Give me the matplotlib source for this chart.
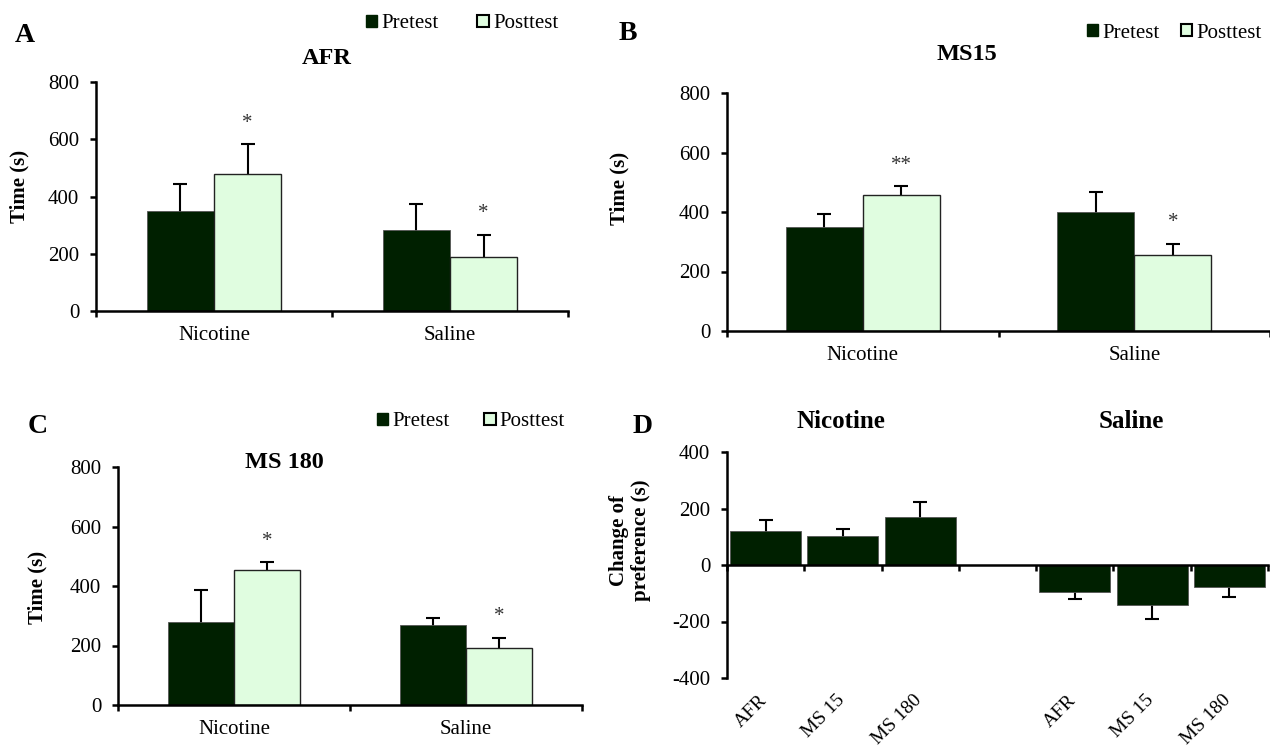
import numpy as np
import matplotlib
matplotlib.use("Agg")
import matplotlib.pyplot as plt
from matplotlib.patches import Patch

plt.rcParams['font.family'] = ['Liberation Serif', 'DejaVu Serif']
plt.rcParams['axes.unicode_minus'] = False

W, H = 1270, 749

groups = ['Nicotine', 'Saline']

# panel A - AFR
afr_pre = [350, 284]
afr_pre_err = [93, 90]
afr_post = [478, 190]
afr_post_err = [104, 77]
afr_stars = ['*', '*']

# panel B - MS15
ms15_pre = [349, 400]
ms15_pre_err = [43, 68]
ms15_post = [456, 257]
ms15_post_err = [30, 36]
ms15_stars = ['**', '*']

# panel C - MS 180
ms180_pre = [279, 270]
ms180_pre_err = [107, 21]
ms180_post = [453, 192]
ms180_post_err = [27, 34]
ms180_stars = ['*', '*']

# panel D - change of preference
cond_labels = ['AFR', 'MS 15', 'MS 180']
nic_change = [122, 104, 171]
nic_change_err = [38, 24, 53]
sal_change = [-96, -143, -79]
sal_change_err = [26, 49, 35]

DARK = '#002000'
LIGHT = '#e0fde0'


def px(x, y):
    return x / W, 1 - y / H


def style_axes(ax):
    for s in ['top', 'right']:
        ax.spines[s].set_visible(False)
    for s in ['left', 'bottom']:
        ax.spines[s].set_linewidth(1.8)
    ax.tick_params(axis='both', which='major', width=1.8, length=4, labelsize=15)
    ax.tick_params(axis='y', pad=8)


def err(ax, x, v, e):
    # symmetric bars drawn behind the boxes, so only the outer half shows
    ax.errorbar(x, v, yerr=e, fmt='none', ecolor='black', elinewidth=1.5,
                capsize=5, capthick=1.5, zorder=1)


def panel(rect, xmax, pre, pre_err, post, post_err, stars):
    ax = fig.add_axes(rect)
    x = np.arange(len(groups))
    w = 0.284
    ax.bar(x - w / 2, pre, w, color=DARK, edgecolor='#555555', linewidth=0.6, zorder=2)
    ax.bar(x + w / 2, post, w, color=LIGHT, edgecolor='#222222', linewidth=1.0, zorder=2)
    err(ax, x - w / 2, pre, pre_err)
    err(ax, x + w / 2, post, post_err)
    for xi, v, e, s in zip(x + w / 2, post, post_err, stars):
        ax.annotate(s, (xi, v + e), xytext=(0, 15), textcoords='offset points',
                    ha='center', va='center', fontsize=15, color='#333333')
    ax.set_ylim(0, 800)
    ax.set_yticks(range(0, 801, 200))
    ax.set_xlim(-0.5, xmax)
    ax.set_xticks([-0.5, 0.5, 1.5])
    ax.set_xticklabels([])
    ax.set_xticks(x, minor=True)
    ax.set_xticklabels(groups, minor=True)
    style_axes(ax)
    ax.tick_params(axis='x', which='minor', length=0, pad=11, labelsize=15)
    return ax


def legend_at(x, y, colsp):
    handles = [Patch(facecolor=DARK, edgecolor=DARK, label='Pretest'),
               Patch(facecolor=LIGHT, edgecolor='black', linewidth=1.5, label='Posttest')]
    fig.legend(handles=handles, loc='center left', bbox_to_anchor=px(x, y), ncol=2,
               frameon=False, borderpad=0, borderaxespad=0, handlelength=0.55,
               handleheight=0.55, handletextpad=0.2, columnspacing=colsp, fontsize=15)


fig = plt.figure(figsize=(12.7, 7.49), dpi=100)

# A
panel([96 / W, 1 - 311 / H, 472 / W, 229 / H], 1.5, afr_pre, afr_pre_err, afr_post, afr_post_err, afr_stars)
fig.text(*px(327, 58), 'AFR', ha='center', va='center', fontsize=17.5, fontweight='bold')
fig.text(*px(25, 35), 'A', ha='center', va='center', fontsize=20, fontweight='bold')
fig.text(*px(19, 186), 'Time (s)', ha='center', va='center', rotation=90, fontsize=15, fontweight='bold')
legend_at(366, 24, 1.85)

# B
panel([727 / W, 1 - 331 / H, 543 / W, 238 / H], 1.453, ms15_pre, ms15_pre_err, ms15_post, ms15_post_err, ms15_stars)
fig.text(*px(967, 55), 'MS15', ha='center', va='center', fontsize=17.5, fontweight='bold')
fig.text(*px(628, 33), 'B', ha='center', va='center', fontsize=20, fontweight='bold')
fig.text(*px(619, 188), 'Time (s)', ha='center', va='center', rotation=90, fontsize=15, fontweight='bold')
legend_at(1087, 33, 1.0)

# C
panel([118 / W, 1 - 705 / H, 464 / W, 238 / H], 1.5, ms180_pre, ms180_pre_err, ms180_post, ms180_post_err, ms180_stars)
fig.text(*px(284, 463), 'MS 180', ha='center', va='center', fontsize=17.5, fontweight='bold')
fig.text(*px(38, 427), 'C', ha='center', va='center', fontsize=20, fontweight='bold')
fig.text(*px(37, 587), 'Time (s)', ha='center', va='center', rotation=90, fontsize=15, fontweight='bold')
legend_at(377, 422, 1.65)

# D
axd = fig.add_axes([727 / W, 1 - 678 / H, 541 / W, 226 / H])
nic_x = np.arange(len(cond_labels))
sal_x = nic_x + len(cond_labels) + 1
bw = 0.92
axd.bar(nic_x, nic_change, bw, color=DARK, edgecolor='#555555', linewidth=0.6, zorder=2)
axd.bar(sal_x, sal_change, bw, color=DARK, edgecolor='#555555', linewidth=0.6, zorder=2)
err(axd, nic_x, nic_change, nic_change_err)
err(axd, sal_x, sal_change, sal_change_err)
axd.set_ylim(-400, 400)
axd.set_yticks(range(-400, 401, 200))
axd.set_xlim(-0.5, 6.5)
axd.set_xticks(np.arange(-0.5, 7, 1.0))
axd.set_xticklabels([])
style_axes(axd)
axd.spines['bottom'].set_position(('data', 0))
for xi, lab in zip(list(nic_x) + list(sal_x), cond_labels * 2):
    axd.annotate(lab, (xi, 0), xycoords=('data', 'axes fraction'), xytext=(-5, -10),
                 textcoords='offset points', rotation=45, ha='right', va='top',
                 rotation_mode='anchor', fontsize=14)
fig.text(*px(841, 422), 'Nicotine', ha='center', va='center', fontsize=18, fontweight='bold')
fig.text(*px(1131, 422), 'Saline', ha='center', va='center', fontsize=18, fontweight='bold')
fig.text(*px(643, 427), 'D', ha='center', va='center', fontsize=20, fontweight='bold')
fig.text(*px(630, 540), 'Change of\npreference (s)', ha='center', va='center', rotation=90,
         fontsize=15, fontweight='bold', linespacing=1.1)

fig.savefig('out.png', dpi=100)
